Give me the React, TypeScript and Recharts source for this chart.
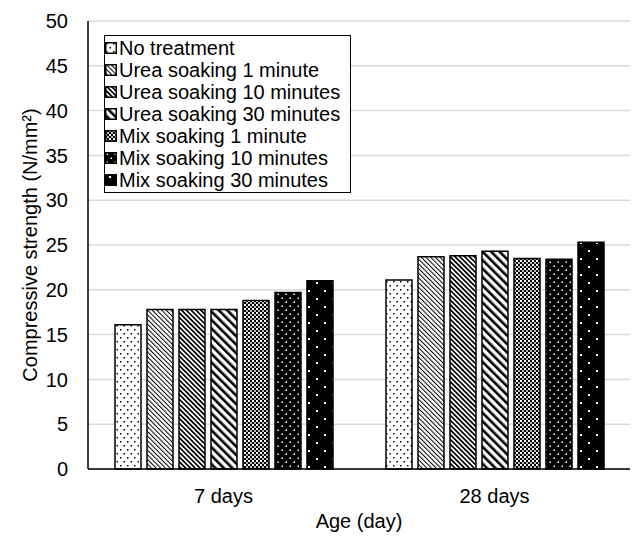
import { BarChart, Bar, XAxis, YAxis, CartesianGrid, Legend } from "recharts";

const ages = ["7 days", "28 days"];

const treatments = [
  "No treatment",
  "Urea soaking 1 minute",
  "Urea soaking 10 minutes",
  "Urea soaking 30 minutes",
  "Mix soaking 1 minute",
  "Mix soaking 10 minutes",
  "Mix soaking 30 minutes",
];

const noTreatment = [16.1, 21.1];
const urea1 = [17.8, 23.7];
const urea10 = [17.8, 23.8];
const urea30 = [17.8, 24.3];
const mix1 = [18.8, 23.5];
const mix10 = [19.7, 23.4];
const mix30 = [21.0, 25.3];

const yTicks = [0, 5, 10, 15, 20, 25, 30, 35, 40, 45, 50];

const seriesValues = [noTreatment, urea1, urea10, urea30, mix1, mix10, mix30];
const patternIds = ["pNone", "pU1", "pU10", "pU30", "pM1", "pM10", "pM30"];

const data = ages.map((age, i) => {
  const row: Record<string, string | number> = { age };
  treatments.forEach((t, j) => {
    row[t] = seriesValues[j][i];
  });
  return row;
});

const font = "'Liberation Sans', Arial, sans-serif";
const fs = 20;

function Patterns() {
  return (
    <defs>
      <pattern id="pNone" width="7" height="8" patternUnits="userSpaceOnUse">
        <rect width="7" height="8" fill="#fff" />
        <rect x="1" y="1" width="1.5" height="1.5" fill="#000" />
        <rect x="4.5" y="5" width="1.5" height="1.5" fill="#000" />
      </pattern>
      <pattern id="pU1" width="3.3" height="4" patternUnits="userSpaceOnUse" patternTransform="rotate(-45)">
        <rect width="3.3" height="4" fill="#fff" />
        <rect width="1" height="4" fill="#000" />
      </pattern>
      <pattern id="pU10" width="3.4" height="4" patternUnits="userSpaceOnUse" patternTransform="rotate(-45)">
        <rect width="3.4" height="4" fill="#fff" />
        <rect width="1.7" height="4" fill="#000" />
      </pattern>
      <pattern id="pU30" width="6" height="4" patternUnits="userSpaceOnUse" patternTransform="rotate(-45)">
        <rect width="6" height="4" fill="#fff" />
        <rect width="2.6" height="4" fill="#000" />
      </pattern>
      <pattern id="pM1" width="4" height="4" patternUnits="userSpaceOnUse">
        <rect width="4" height="4" fill="#000" />
        <rect x="0" y="0" width="2" height="2" fill="#fff" />
        <rect x="2" y="2" width="2" height="2" fill="#bbb" />
      </pattern>
      <pattern id="pM10" width="8" height="8" patternUnits="userSpaceOnUse">
        <rect width="8" height="8" fill="#000" />
        <rect x="1.5" y="1.5" width="1.5" height="1.5" fill="#fff" />
        <rect x="5.5" y="5.5" width="1.5" height="1.5" fill="#fff" />
      </pattern>
      <pattern id="pM30" width="16" height="16" patternUnits="userSpaceOnUse">
        <rect width="16" height="16" fill="#000" />
        <rect x="4" y="2" width="2" height="2" fill="#fff" />
        <rect x="12" y="10" width="2" height="2" fill="#fff" />
      </pattern>
    </defs>
  );
}

function LegendBox() {
  return (
    <div
      style={{
        border: "1.5px solid #000",
        background: "#fff",
        width: 247,
        height: 158,
        boxSizing: "border-box",
        padding: "1px 0 0 0",
        fontFamily: font,
        fontSize: fs,
        lineHeight: "22px",
        color: "#000",
      }}
    >
      {treatments.map((t, i) => (
        <div key={t} style={{ display: "flex", alignItems: "center", height: 22, whiteSpace: "nowrap" }}>
          <svg width="12" height="12" style={{ marginLeft: 0, marginRight: 2 }}>
            <rect x="0.75" y="0.75" width="10.5" height="10.5" fill={`url(#${patternIds[i]})`} stroke="#000" strokeWidth="1.5" />
          </svg>
          <span>{t}</span>
        </div>
      ))}
    </div>
  );
}

export default function App() {
  return (
    <div style={{ position: "absolute", left: 0, top: 0, width: 633, height: 536, background: "#fff" }}>
      <BarChart
        width={633}
        height={536}
        data={data}
        margin={{ top: 21, right: 3, left: 0, bottom: 0 }}
        barSize={26}
        barGap={6}
      >
        <Patterns />
        <CartesianGrid vertical={false} stroke="#d9d9d9" strokeWidth={1.5} />
        <XAxis
          dataKey="age"
          height={67}
          axisLine={{ stroke: "#000", strokeWidth: 1.5 }}
          tickLine={false}
          tickMargin={14}
          tick={{ fill: "#000", fontSize: fs, fontFamily: font }}
          label={{ value: "Age (day)", position: "insideBottom", offset: 8, fill: "#000", fontSize: fs, fontFamily: font }}
        />
        <YAxis
          width={88}
          domain={[0, 50]}
          ticks={yTicks}
          interval={0}
          axisLine={{ stroke: "#000", strokeWidth: 1.5 }}
          tickLine={false}
          tickMargin={14}
          tick={{ fill: "#000", fontSize: fs, fontFamily: font }}
          label={({ viewBox }: any) => (
            <text
              x={30}
              y={viewBox.y + viewBox.height / 2}
              transform={`rotate(-90, 30, ${viewBox.y + viewBox.height / 2})`}
              textAnchor="middle"
              dominantBaseline="central"
              fill="#000"
              fontSize={fs}
              fontFamily={font}
            >
              Compressive strength (N/mm²)
            </text>
          )}
        />
        <Legend
          verticalAlign="middle"
          align="center"
          layout="horizontal"
          wrapperStyle={{ position: "absolute", left: 104, top: 35, width: "auto", height: "auto" }}
          content={() => <LegendBox />}
        />
        {treatments.map((t, i) => (
          <Bar
            key={t}
            dataKey={t}
            fill={`url(#${patternIds[i]})`}
            stroke="#000"
            strokeWidth={1.5}
            isAnimationActive={false}
          />
        ))}
      </BarChart>
    </div>
  );
}
